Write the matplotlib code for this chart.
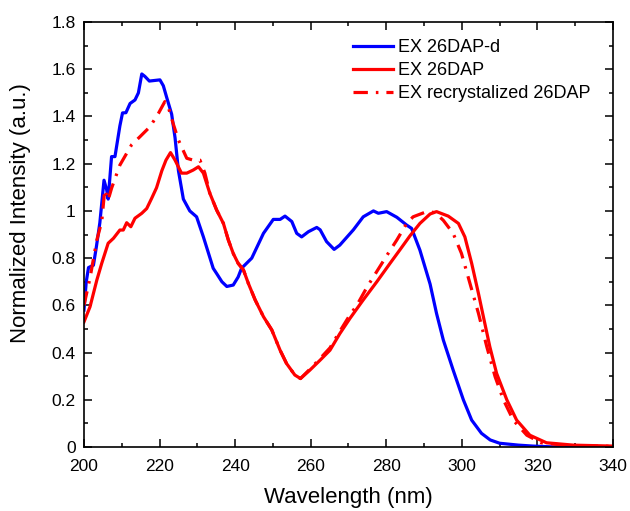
import matplotlib
matplotlib.use("Agg")
import matplotlib.pyplot as plt
from matplotlib.ticker import MultipleLocator, FuncFormatter

plt.rcParams['font.family'] = ['Liberation Sans', 'DejaVu Sans']

# EX 26DAP-d
wl_d = [200.0, 200.6, 201.2, 202.5, 203.3, 204.2, 205.3, 206.0, 206.4, 207.3, 208.2,
        209.5, 210.2, 211.1, 212.2, 213.5, 214.4, 215.3, 216.1, 217.3, 220.1, 221.0,
        221.9, 223.2, 224.1, 225.0, 226.3, 228.0, 229.8, 231.6, 234.2, 235.1, 236.5,
        237.8, 239.5, 240.8, 241.7, 244.4, 247.5, 250.1, 251.9, 253.2, 255.0, 256.3,
        257.6, 259.4, 261.6, 262.5, 264.2, 266.2, 267.7, 271.3, 273.9, 276.6, 277.9,
        280.1, 282.8, 285.4, 286.7, 288.9, 291.6, 293.3, 295.1, 297.7, 300.4, 302.6,
        305.2, 307.5, 310.0, 315.0, 318.8, 325.0, 340.0]
int_d = [0.58, 0.70, 0.76, 0.77, 0.85, 0.95, 1.13, 1.09, 1.05, 1.23, 1.23,
         1.36, 1.415, 1.416, 1.455, 1.47, 1.50, 1.58, 1.57, 1.55, 1.555, 1.53,
         1.48, 1.41, 1.31, 1.17, 1.05, 1.00, 0.975, 0.89, 0.757, 0.735, 0.70,
         0.68, 0.686, 0.72, 0.757, 0.80, 0.905, 0.964, 0.964, 0.978, 0.955, 0.905,
         0.89, 0.912, 0.93, 0.92, 0.87, 0.837, 0.855, 0.92, 0.975, 1.0, 0.99,
         0.997, 0.973, 0.94, 0.926, 0.834, 0.69, 0.566, 0.453, 0.326, 0.2, 0.114,
         0.058, 0.03, 0.016, 0.008, 0.004, 0.0, 0.0]

# EX 26DAP
wl_h = [200.0, 200.5, 201.6, 203.4, 204.7, 206.4, 207.8, 209.5, 210.4, 211.3, 212.4,
        213.5, 215.3, 216.6, 217.9, 219.2, 220.6, 221.7, 222.9, 224.1, 225.8, 227.2,
        228.9, 230.3, 231.6, 233.3, 235.1, 236.9, 238.2, 239.5, 240.8, 242.2, 243.5,
        245.3, 247.5, 249.7, 251.9, 253.6, 255.8, 257.3, 259.8, 262.5, 265.1, 267.7,
        270.4, 273.9, 277.5, 281.0, 283.6, 286.3, 288.9, 291.6, 293.3, 296.4, 299.1,
        300.8, 302.6, 304.4, 305.7, 307.4, 309.2, 311.9, 314.5, 318.0, 322.4, 329.5,
        340.0]
int_h = [0.53, 0.55, 0.594, 0.707, 0.778, 0.863, 0.884, 0.919, 0.919, 0.95, 0.933,
         0.969, 0.99, 1.01, 1.053, 1.098, 1.17, 1.215, 1.247, 1.215, 1.16, 1.16,
         1.173, 1.187, 1.16, 1.075, 1.004, 0.947, 0.877, 0.82, 0.778, 0.75, 0.693,
         0.623, 0.552, 0.496, 0.41, 0.354, 0.305, 0.29, 0.326, 0.368, 0.41, 0.48,
         0.545, 0.623, 0.70, 0.778, 0.835, 0.895, 0.947, 0.987, 0.997, 0.978, 0.947,
         0.89, 0.778, 0.65, 0.552, 0.425, 0.312, 0.2, 0.114, 0.05, 0.018, 0.008,
         0.004]

# EX recrystalized 26DAP
wl_r = [200.0, 201.6, 203.4, 204.7, 205.5, 206.4, 207.3, 209.5, 212.6, 214.8, 217.5,
        219.7, 221.4, 222.3, 223.6, 225.0, 227.2, 228.9, 230.7, 232.0, 233.3, 235.1,
        236.9, 238.2, 239.5, 240.8, 242.2, 243.5, 245.3, 247.5, 249.7, 251.9, 253.6,
        255.8, 257.3, 259.8, 262.5, 265.1, 267.7, 270.4, 272.2, 275.0, 278.3, 280.5,
        282.8, 285.4, 287.1, 290.7, 292.9, 295.1, 297.7, 299.9, 302.2, 304.4, 306.6,
        308.8, 311.0, 313.6, 317.2, 321.0, 328.0, 340.0]
int_r = [0.60, 0.716, 0.877, 0.955, 1.09, 1.046, 1.096, 1.194, 1.28, 1.314, 1.357,
         1.413, 1.463, 1.44, 1.37, 1.30, 1.223, 1.215, 1.215, 1.16, 1.075, 1.004,
         0.947, 0.877, 0.82, 0.778, 0.75, 0.693, 0.623, 0.552, 0.496, 0.41, 0.354,
         0.305, 0.29, 0.33, 0.375, 0.42, 0.49, 0.56, 0.60, 0.68, 0.764, 0.82,
         0.877, 0.947, 0.975, 0.997, 0.993, 0.96, 0.905, 0.82, 0.69, 0.566, 0.425,
         0.298, 0.2, 0.114, 0.05, 0.018, 0.006, 0.003]

fig = plt.figure(figsize=(6.3, 5.11), dpi=100)
ax = fig.add_axes([0.1333, 0.1252, 0.8397, 0.8317])

ax.plot(wl_d, int_d, color='#0000ff', lw=2.3, label='EX 26DAP-d')
ax.plot(wl_h, int_h, color='#ff0000', lw=2.3, label='EX 26DAP')
ax.plot(wl_r, int_r, color='#ff0000', lw=2.3, dashes=[4.5, 2.5, 0.8, 2.5],
        label='EX recrystalized 26DAP')

ax.set_xlim(200, 340)
ax.set_ylim(0, 1.8)
ax.xaxis.set_major_locator(MultipleLocator(20))
ax.xaxis.set_minor_locator(MultipleLocator(10))
ax.yaxis.set_major_locator(MultipleLocator(0.2))
ax.yaxis.set_minor_locator(MultipleLocator(0.1))
ax.yaxis.set_major_formatter(FuncFormatter(lambda v, p: '%g' % round(v, 2)))
ax.tick_params(which='both', direction='in', top=True, right=True, labelsize=12.5,
               width=1.1, pad=6)
ax.tick_params(axis='x', which='both', pad=8.5)
ax.tick_params(which='major', length=6)
ax.tick_params(which='minor', length=3)
for s in ax.spines.values():
    s.set_linewidth(1.2)

ax.set_xlabel('Wavelength (nm)', fontsize=16)
ax.set_ylabel('Normalized Intensity (a.u.)', fontsize=16)
ax.xaxis.set_label_coords(0.5, -0.095)
ax.yaxis.set_label_coords(-0.1, 0.55)

ax.legend(loc='upper left', bbox_to_anchor=(0.5085, 0.96), frameon=False, fontsize=13,
          handlelength=2.2, handletextpad=0.3, labelspacing=0.33,
          borderpad=0, borderaxespad=0)

fig.savefig('out.png', dpi=100)
